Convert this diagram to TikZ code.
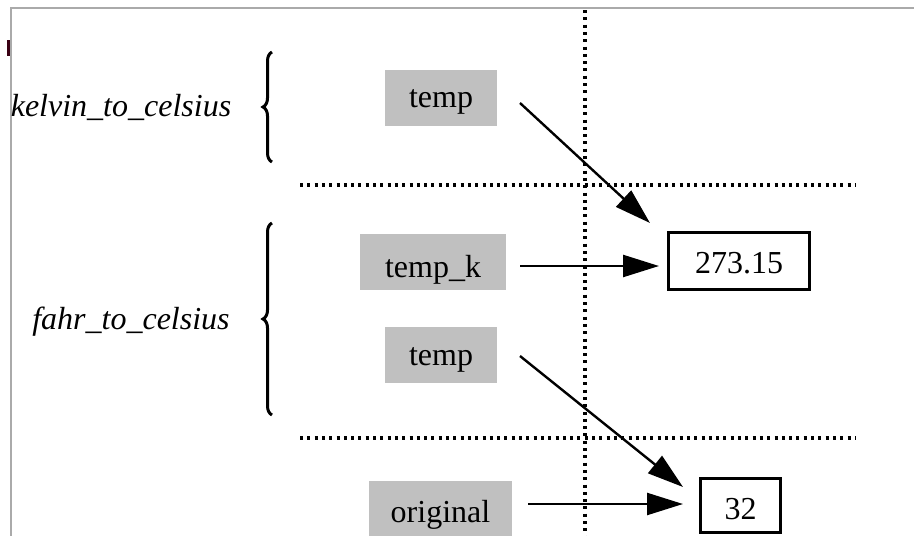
\documentclass[tikz,border=0pt]{standalone}
\usepackage{fontspec}
\setmainfont{Liberation Serif}
\usetikzlibrary{arrows.meta,decorations.pathreplacing}
\definecolor{boxgray}{RGB}{192,192,192}
\definecolor{framegray}{RGB}{170,170,170}
\tikzset{
  varbox/.style={fill=boxgray, draw=none, inner sep=0pt, text depth=0pt, font=\fontsize{32}{38}\selectfont},
  valbox/.style={fill=white, draw=black, line width=3pt, inner sep=0pt, text depth=0pt, font=\fontsize{32}{38}\selectfont},
  fnlabel/.style={inner sep=0pt, font=\fontsize{32}{38}\selectfont\itshape},
  arr/.style={line width=2.4pt, -{Triangle[length=36pt,width=22pt]}},
  dotline/.style={line width=3.4pt, dash pattern=on 3pt off 4.3pt},
  bracestyle/.style={line width=3pt, decorate, decoration={brace, amplitude=9pt}},
  frameline/.style={draw=framegray, line width=2.5pt}
}
\begin{document}
\begin{tikzpicture}[x=1pt,y=-1pt]
\useasboundingbox (0,0) rectangle (914,536);
% window frame
\draw[frameline] (10,8) -- (914,8);
\draw[frameline] (11,8) -- (11,536);
\fill[black!70!purple] (7,40) rectangle (10,56);
% dotted separators
\draw[dotline] (585,10) -- (585,536);
\draw[dotline] (300,185) -- (856,185);
\draw[dotline] (300,438) -- (856,438);
% function labels and braces
\node[fnlabel] (kelvin) at (121,107) {kelvin\_to\_celsius};
\node[fnlabel] (fahr) at (131,322) {fahr\_to\_celsius};
\draw[bracestyle] (272,162) -- (272,52);
\draw[bracestyle] (272,415) -- (272,223);
% variable boxes
\node[varbox, text height=19pt, minimum width=112pt, minimum height=56pt] (temp1) at (441,97.5) {temp};
\node[varbox, text height=30pt, minimum width=146pt, minimum height=56pt] (tempk) at (433,262) {temp\_k};
\node[varbox, text height=22pt, minimum width=112pt, minimum height=56pt] (temp2) at (441,354.5) {temp};
\node[varbox, text height=25pt, minimum width=143pt, minimum height=57pt] (orig) at (440.5,509.5) {original};
% value boxes
\node[valbox, text height=24pt, minimum width=141pt, minimum height=57pt] (v273) at (739,261) {273.15};
\node[valbox, text height=28pt, minimum width=80pt, minimum height=54pt] (v32) at (740.5,505.5) {32};
% arrow ends
\coordinate (s1) at (520,103);
\coordinate (e1) at (650,223);
\coordinate (s2) at (520,266);
\coordinate (e2) at (659,266);
\coordinate (s3) at (520,356);
\coordinate (e3) at (683,487);
\coordinate (s4) at (528,504);
\coordinate (e4) at (683,504);
\draw[arr] (s1) -- (e1);
\draw[arr] (s2) -- (e2);
\draw[arr] (s3) -- (e3);
\draw[arr] (s4) -- (e4);
\end{tikzpicture}
\end{document}
